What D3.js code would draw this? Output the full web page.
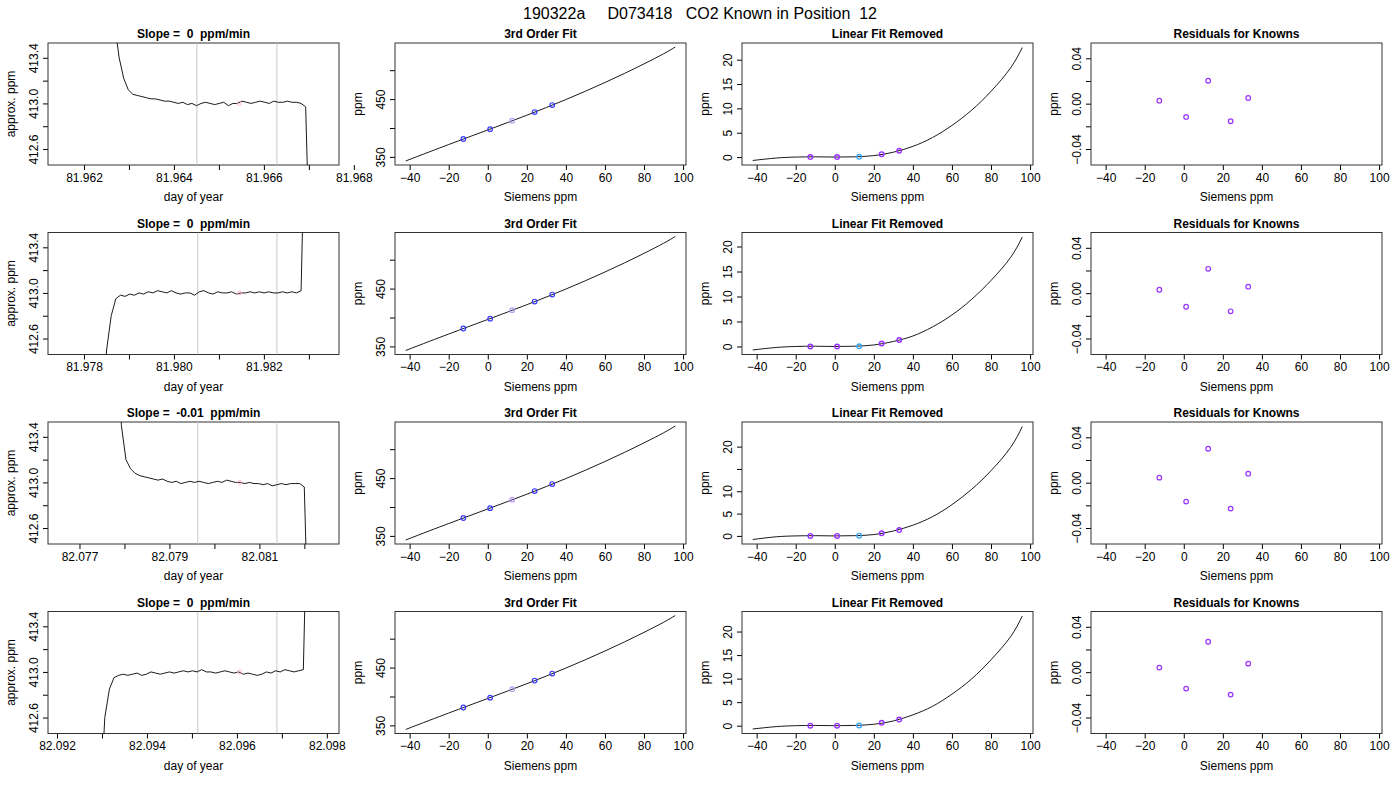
<!DOCTYPE html>
<html>
<head>
<meta charset="utf-8">
<script src="https://cdn.jsdelivr.net/npm/d3@7"></script>
<style>
body { margin: 0; background: #fff; }
svg text { font-family: "Liberation Sans", Arial, sans-serif; fill: #000; white-space: pre; }
.ptitle { font-weight: bold; font-size: 12px; }
.tick text { font-size: 12px; }
</style>
</head>
<body>
<div id="chart"></div>
<script>
const mainTitle = "190322a     D073418   CO2 Known in Position  12";
const slopeTitles = ["Slope =  0  ppm/min", "Slope =  0  ppm/min", "Slope =  -0.01  ppm/min", "Slope =  0  ppm/min"];

// time-series panel (col 1): window, trace start/end, samples
const dayDomains = [[81.9612, 81.96767], [81.9772, 81.98367], [82.0763, 82.08277], [82.0918, 82.09827]];
const dayTicks = [
  [81.962, 81.963, 81.964, 81.965, 81.966, 81.967, 81.968],
  [81.978, 81.979, 81.980, 81.981, 81.982, 81.983],
  [82.077, 82.078, 82.079, 82.080, 82.081, 82.082],
  [82.092, 82.093, 82.094, 82.095, 82.096, 82.097, 82.098]
];
const dayLabelStep = [2, 2, 2, 2];
const traceSpan = [[81.96258, 81.96703], [81.97840, 81.98293], [82.07783, 82.08210], [82.09296, 82.09758]];
const avgWindow = [[81.96451, 81.96629], [81.98053, 81.98229], [82.07963, 82.08139], [82.09513, 82.09689]];
const trace1 = [414.8, 413.7, 413.4, 413.22, 413.12, 413.08, 413.07, 413.06, 413.05, 413.04, 413.04, 413.03, 413.02, 413.02, 413.01, 413.0, 413.01, 412.99, 413.0, 412.98, 413.0, 413.01, 413.0, 412.99, 413.0, 413.01, 412.98, 413.0, 413.0, 413.02, 413.01, 413.0, 413.01, 413.02, 413.01, 413.0, 413.02, 413.01, 413.01, 413.02, 413.01, 413.01, 413.0, 412.97, 411.5];
const trace2 = [411.8, 412.5, 412.8, 412.95, 412.98, 412.97, 412.99, 412.98, 413.0, 412.99, 413.01, 413.0, 413.02, 413.01, 413.0, 413.02, 413.0, 412.99, 413.0, 413.0, 412.98, 413.01, 413.02, 413.0, 412.99, 413.01, 413.0, 413.0, 413.01, 412.99, 413.0, 413.0, 413.01, 413.0, 413.01, 413.0, 413.01, 413.0, 413.0, 413.01, 413.0, 413.01, 413.0, 413.02, 414.8];
const trace3 = [414.5, 413.5, 413.2, 413.12, 413.08, 413.06, 413.05, 413.04, 413.03, 413.02, 413.03, 413.01, 413.0, 413.01, 412.99, 413.0, 413.01, 413.0, 413.01, 413.0, 412.99, 413.0, 413.01, 413.0, 413.02, 413.01, 413.0, 413.0, 412.99, 413.0, 412.99, 412.99, 412.98, 412.99, 412.97, 412.98, 412.99, 412.98, 412.99, 412.99, 412.99, 412.96, 411.5];
const trace4 = [411.8, 412.6, 412.85, 412.95, 412.97, 412.98, 412.97, 412.98, 412.99, 412.97, 412.98, 413.0, 412.99, 412.98, 412.99, 413.0, 412.99, 413.0, 413.01, 413.0, 413.01, 413.0, 413.02, 413.0, 413.0, 412.99, 413.0, 413.01, 413.0, 412.99, 413.0, 412.98, 412.99, 412.98, 412.97, 412.98, 413.0, 412.99, 413.01, 413.0, 413.02, 413.01, 413.0, 413.01, 413.02, 414.8];
const traces = [trace1, trace2, trace3, trace4];
const meanPoint = 413.0;
const ppmDomain = [412.46, 413.53];

// fit panels (cols 2-4)
const siemensDomain = [-47.5, 101.5];
const siemensTicks = [-40, -20, 0, 20, 40, 60, 80, 100];
const knownX = [-12.5, 1.2, 12.5, 24, 33];
const knownY = [381, 398, 412.6, 427.6, 439.7];
const curveX = [-42, -30, -20, -10, 0, 10, 20, 30, 40, 50, 60, 70, 80, 90, 96];
const fitY = [343.0, 358.6, 371.4, 384.05, 396.6, 409.25, 422.1, 435.4, 449.2, 463.6, 478.7, 494.4, 510.9, 528.3, 540.1];
const fitDomain = [336, 547];
const removed = [
  [-0.7, -0.2, 0, 0.05, 0, 0.05, 0.3, 1.0, 2.2, 4.0, 6.5, 9.6, 13.5, 18.3, 22.5],
  [-0.7, -0.2, 0, 0.05, 0, 0.05, 0.3, 1.0, 2.1, 3.9, 6.3, 9.4, 13.2, 17.8, 21.9],
  [-0.8, -0.2, 0, 0.05, 0, 0.05, 0.3, 1.1, 2.4, 4.3, 7.0, 10.4, 14.6, 19.8, 24.5],
  [-0.7, -0.2, 0, 0.05, 0, 0.05, 0.3, 1.0, 2.3, 4.1, 6.7, 9.9, 14.0, 18.9, 23.3]
];
const removedKnown = [0.0, 0.0, 0.05, 0.6, 1.3];
const removedHide = [[], [], [15], []];
const residuals = [
  [0.0026, -0.0117, 0.0202, -0.0155, 0.0050],
  [0.0030, -0.0120, 0.0215, -0.0160, 0.0057],
  [0.0044, -0.0167, 0.0299, -0.0229, 0.0079],
  [0.0040, -0.0145, 0.0268, -0.0198, 0.0075]
];
const residDomain = [-0.0541, 0.0535];

const W = 1400, H = 800;
const colLeft = [48, 395, 742, 1091];
const rowTop = [43, 232.5, 422, 611.5];
const pw = 291, ph = 122;

const svg = d3.select("#chart").append("svg").attr("width", W).attr("height", H);

svg.append("text").attr("x", 700).attr("y", 19).attr("text-anchor", "middle")
  .style("font-size", "16px").text(mainTitle);

svg.append("defs").selectAll("clipPath").data(d3.range(16)).join("clipPath")
  .attr("id", i => "clip" + i)
  .append("rect")
  .attr("x", i => colLeft[i % 4]).attr("y", i => rowTop[Math.floor(i / 4)])
  .attr("width", pw).attr("height", ph);

function panel(r, c, title, xs, ys, xlab, ylab, xTicks, xFmt, yTicks, yFmt) {
  const x0 = colLeft[c], y0 = rowTop[r];
  const g = svg.append("g");
  const x = xs.range([x0, x0 + pw]);
  const y = ys.range([y0 + ph, y0]);
  const xa = g.append("g").attr("transform", `translate(0,${y0 + ph})`)
    .call(d3.axisBottom(x).tickValues(xTicks).tickFormat(xFmt).tickSize(5).tickPadding(3));
  const ya = g.append("g").attr("transform", `translate(${x0},0)`)
    .call(d3.axisLeft(y).tickValues(yTicks).tickFormat(yFmt).tickSize(5).tickPadding(3));
  ya.selectAll(".tick text").attr("transform", "rotate(-90)").attr("text-anchor", "middle")
    .attr("x", 0).attr("y", -10).attr("dy", "0em");
  [xa, ya].forEach(a => { a.select(".domain").remove(); a.selectAll("line").attr("stroke", "#000"); });
  g.append("rect").attr("x", x0).attr("y", y0).attr("width", pw).attr("height", ph)
    .attr("fill", "none").attr("stroke", "#333").attr("stroke-width", 1);
  g.append("text").attr("class", "ptitle").attr("x", x0 + pw / 2).attr("y", y0 - 5)
    .attr("text-anchor", "middle").text(title);
  g.append("text").attr("x", x0 + pw / 2).attr("y", y0 + ph + 36).attr("text-anchor", "middle")
    .style("font-size", "12px").text(xlab);
  g.append("text").attr("transform", `translate(${x0 - 33},${y0 + ph / 2}) rotate(-90)`)
    .attr("text-anchor", "middle").style("font-size", "12px").text(ylab);
  const inner = g.append("g").attr("clip-path", `url(#clip${r * 4 + c})`);
  return {x, y, inner};
}

const fmtEvery = (ticks, step, f) => d => (ticks.indexOf(d) % step === 0 ? f(d) : "");

for (let r = 0; r < 4; r++) {
  // col 1: raw trace
  const p1 = panel(r, 0, slopeTitles[r], d3.scaleLinear().domain(dayDomains[r]), d3.scaleLinear().domain(ppmDomain),
    "day of year", "approx. ppm", dayTicks[r], fmtEvery(dayTicks[r], dayLabelStep[r], d3.format(".3f")),
    [412.6, 412.8, 413.0, 413.2, 413.4], d => ([412.6, 413.0, 413.4].includes(d) ? d.toFixed(1) : ""));
  const tr = traces[r];
  const tScale = d3.scaleLinear().domain([0, tr.length - 1]).range(traceSpan[r]);
  avgWindow[r].forEach(t => p1.inner.append("line").attr("x1", p1.x(t)).attr("x2", p1.x(t))
    .attr("y1", rowTop[r]).attr("y2", rowTop[r] + ph).attr("stroke", "#c8c8c8"));
  p1.inner.append("path").datum(tr)
    .attr("d", d3.line().x((d, i) => p1.x(tScale(i))).y(d => p1.y(d)))
    .attr("fill", "none").attr("stroke", "#000").attr("stroke-width", 0.9);
  p1.inner.append("circle").attr("cx", p1.x(d3.mean(avgWindow[r]) + 0.00005)).attr("cy", p1.y(meanPoint))
    .attr("r", 2).attr("fill", "none").attr("stroke", "#ffb6c1");

  // col 2: 3rd order fit
  const p2 = panel(r, 1, "3rd Order Fit", d3.scaleLinear().domain(siemensDomain), d3.scaleLinear().domain(fitDomain),
    "Siemens ppm", "ppm", siemensTicks, d3.format("d"), [350, 400, 450, 500], d => (d === 350 || d === 450 ? d : ""));
  p2.inner.append("path").datum(fitY)
    .attr("d", d3.line().curve(d3.curveNatural).x((d, i) => p2.x(curveX[i])).y(d => p2.y(d)))
    .attr("fill", "none").attr("stroke", "#000").attr("stroke-width", 0.9);
  p2.inner.selectAll("circle").data(knownY).join("circle")
    .attr("cx", (d, i) => p2.x(knownX[i])).attr("cy", d => p2.y(d)).attr("r", 2.3)
    .attr("fill", "none").attr("stroke-width", 1.2)
    .attr("stroke", (d, i) => (i === 2 ? "#b79cf5" : "#3a3aff"));

  // col 3: linear fit removed
  const rem = removed[r];
  const ext = d3.extent(rem), pad = (ext[1] - ext[0]) * 0.04;
  const remTicks = [0, 5, 10, 15, 20];
  const p3 = panel(r, 2, "Linear Fit Removed", d3.scaleLinear().domain(siemensDomain),
    d3.scaleLinear().domain([ext[0] - pad, ext[1] + pad]), "Siemens ppm", "ppm", siemensTicks, d3.format("d"),
    remTicks, d => (removedHide[r].includes(d) ? "" : d));
  p3.inner.append("path").datum(rem)
    .attr("d", d3.line().curve(d3.curveNatural).x((d, i) => p3.x(curveX[i])).y(d => p3.y(d)))
    .attr("fill", "none").attr("stroke", "#000").attr("stroke-width", 0.9);
  p3.inner.selectAll("circle").data(removedKnown).join("circle")
    .attr("cx", (d, i) => p3.x(knownX[i])).attr("cy", d => p3.y(d)).attr("r", 2.3)
    .attr("fill", "none").attr("stroke-width", 1.4)
    .attr("stroke", (d, i) => (i === 2 ? "#3fa9f5" : "#9933ff"));

  // col 4: residuals
  const p4 = panel(r, 3, "Residuals for Knowns", d3.scaleLinear().domain(siemensDomain), d3.scaleLinear().domain(residDomain),
    "Siemens ppm", "ppm", siemensTicks, d3.format("d"), [-0.04, -0.02, 0, 0.02, 0.04],
    d => (Math.abs(d) === 0.02 ? "" : d3.format(".2f")(d)));
  p4.inner.selectAll("circle").data(residuals[r]).join("circle")
    .attr("cx", (d, i) => p4.x(knownX[i])).attr("cy", d => p4.y(d)).attr("r", 2.3)
    .attr("fill", "none").attr("stroke-width", 1.2).attr("stroke", "#9933ff");
}
</script>
</body>
</html>
